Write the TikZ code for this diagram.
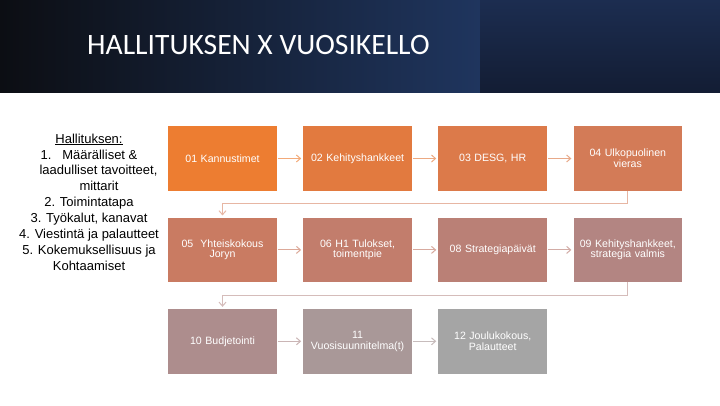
\documentclass[tikz,border=0pt]{standalone}
\usepackage{fontspec}
\setmainfont{Liberation Sans}
\newfontfamily\titlefont{Carlito}
\usepackage{tikz}
\usepackage{xcolor}
\usetikzlibrary{positioning}
\usetikzlibrary{arrows.meta}
\definecolor{band1}{RGB}{12, 14, 19}
\definecolor{band2}{RGB}{31, 53, 94}
\definecolor{band3}{RGB}{28, 45, 80}
\definecolor{band4}{RGB}{19, 29, 52}
\definecolor{V01color}{RGB}{237, 125, 49}
\definecolor{V02color}{RGB}{226, 122, 63}
\definecolor{V03color}{RGB}{220, 122, 74}
\definecolor{V04color}{RGB}{211, 123, 87}
\definecolor{V05color}{RGB}{201, 123, 98}
\definecolor{V06color}{RGB}{194, 125, 108}
\definecolor{V08color}{RGB}{186, 128, 118}
\definecolor{V09color}{RGB}{179, 133, 130}
\definecolor{V10color}{RGB}{173, 141, 141}
\definecolor{V11color}{RGB}{169, 152, 152}
\definecolor{V12color}{RGB}{165, 165, 165}
\tikzstyle{monthbox} = [
	draw=none,
	minimum width=108.5pt,
	minimum height=64.5pt,
	text width=104pt,
	align=center,
	text=white,
	inner sep=0pt,
	font=\fontsize{10.6}{10.6}\selectfont
]
\tikzstyle{flow} = [
	-{Straight Barb[length=4pt, width=7pt]},
	line width=1pt,
	shorten <=1pt,
	shorten >=2pt
]

\begin{document}
\begin{tikzpicture}[x=1pt, y=-1pt, node distance=26.5pt and 26.2pt]

	\useasboundingbox (0,0) rectangle (720,405);
	\fill[white] (0,0) rectangle (720,405);

	%
	% Title band
	\shade[left color=band1, right color=band2] (0,0) rectangle (480,92);
	\shade[top color=band3, bottom color=band4] (480,0) rectangle (720,92);
	\node[anchor=base west, inner sep=0pt, text=white, font=\titlefont\fontsize{29.6}{29.6}\selectfont] (title) at (87,54) {HALLITUKSEN X VUOSIKELLO};

	%
	% List on the left
	\node[anchor=north, align=center, inner sep=0pt, font=\fontsize{13}{15.9}\selectfont] (hallitus) at (89,133.5) {\underline{Hallituksen:}\\1.\ \ \ Määrälliset \&\hspace*{20pt}\\\hspace*{19pt}laadulliset tavoitteet,\\\hspace*{20pt}mittarit\\2. Toimintatapa\\3. Työkalut, kanavat\\4. Viestintä ja palautteet\\5. Kokemuksellisuus ja\\Kohtaamiset};

	%
	% First row
	\node[monthbox, fill=V01color] at (222.5,158.5) (V01) {01 Kannustimet};
	\node[monthbox, right=of V01, fill=V02color] (V02) {02 Kehityshankkeet};
	\node[monthbox, right=of V02, fill=V03color] (V03) {03 DESG, HR};
	\node[monthbox, right=of V03, fill=V04color] (V04) {04 Ulkopuolinen\\vieras};

	%
	% Second row
	\node[monthbox, below=of V01, fill=V05color] (V05) {05\ \ Yhteiskokous\\Joryn};
	\node[monthbox, right=of V05, fill=V06color] (V06) {06 H1 Tulokset,\\toimentpie};
	\node[monthbox, right=of V06, fill=V08color] (V08) {08 Strategiapäivät};
	\node[monthbox, right=of V08, fill=V09color] (V09) {09 Kehityshankkeet,\\strategia valmis};

	%
	% Third row
	\node[monthbox, below=of V05, fill=V10color] (V10) {10 Budjetointi};
	\node[monthbox, right=of V10, fill=V11color] (V11) {11\\Vuosisuunnitelma(t)};
	\node[monthbox, right=of V11, fill=V12color] (V12) {12 Joulukokous,\\Palautteet};

	%
	% Arrows

	% row 1
	\draw[flow, draw=V01color!65!white] (V01) -- (V02);
	\draw[flow, draw=V02color!65!white] (V02) -- (V03);
	\draw[flow, draw=V03color!65!white] (V03) -- (V04);

	% row 2
	\draw[flow, draw=V05color!65!white] (V05) -- (V06);
	\draw[flow, draw=V06color!65!white] (V06) -- (V08);
	\draw[flow, draw=V08color!65!white] (V08) -- (V09);

	% row 3
	\draw[flow, draw=V10color!65!white] (V10) -- (V11);
	\draw[flow, draw=V11color!65!white] (V11) -- (V12);

	% row to row
	\draw[flow, draw=V04color!55!white, shorten <=0pt] (V04.south) -- ++(0,13) -| (V05.north);
	\draw[flow, draw=V09color!55!white, shorten <=0pt] (V09.south) -- ++(0,13) -| (V10.north);

\end{tikzpicture}
\end{document}
